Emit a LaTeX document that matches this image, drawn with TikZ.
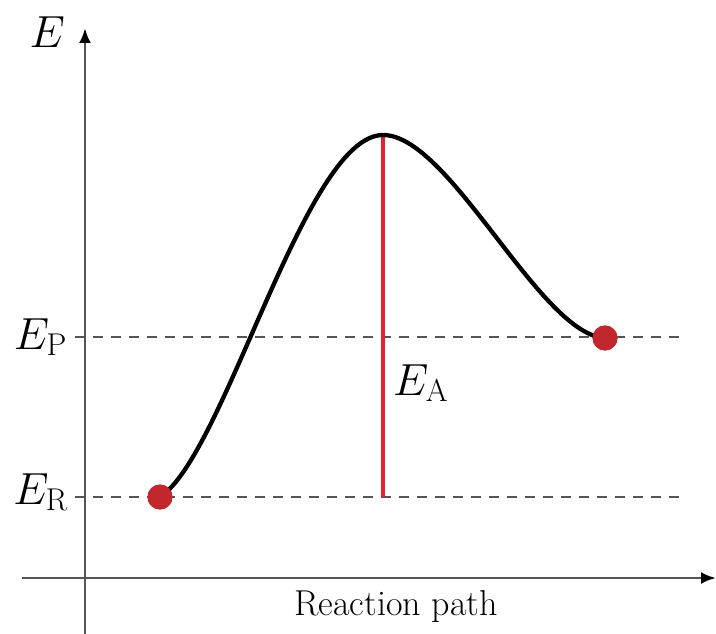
\RequirePackage{fix-cm}
\documentclass[tikz,border=0pt]{standalone}
\usepackage{fontspec}
\usetikzlibrary{arrows.meta}
\definecolor{axisgray}{HTML}{555555}
\definecolor{dotred}{HTML}{C1272D}
\definecolor{linered}{HTML}{E8202A}
\tikzset{
  axis/.style={draw=axisgray, line width=2.8pt, -{Latex[length=15pt,width=12pt,color=black]}},
  level/.style={draw=axisgray, line width=2.4pt, dash pattern=on 10pt off 8pt},
  curve/.style={draw=black, line width=4.3pt},
  ealine/.style={draw=linered, line width=3.6pt},
  dot/.style={circle, fill=dotred, inner sep=0pt, minimum size=25pt},
  biglabel/.style={inner sep=0pt, font=\fontsize{45}{50}\selectfont},
  pathlabel/.style={inner sep=0pt, font=\fontsize{36}{40}\selectfont}
}
\begin{document}
\begin{tikzpicture}[x=1pt, y=-1pt]
\useasboundingbox (0,0) rectangle (716,634);
% axes
\coordinate (yb) at (85,640);
\coordinate (yt) at (85,28);
\coordinate (xl) at (22,578);
\coordinate (xr) at (716,578);
\draw[axis] (yb) -- (yt);
\draw[axis] (xl) -- (xr);
% levels
\coordinate (pl) at (75,337);
\coordinate (pr) at (680,337);
\coordinate (rl) at (75,497);
\coordinate (rr) at (680,497);
\draw[level] (pl) -- (pr);
\draw[level] (rl) -- (rr);
% activation line
\coordinate (peak) at (383,135);
\coordinate (base) at (383,497);
\draw[ealine] (peak) -- (base);
% curve
\node[dot] (r) at (160,497) {};
\node[dot] (p) at (605,338) {};
\draw[curve, line cap=round] (r.center) .. controls (225,455) and (305,135) .. (peak)
  .. controls (450,135) and (540,335) .. (p.center);
\node[dot] at (r.center) {};
\node[dot] at (p.center) {};
% labels
\node[biglabel, anchor=base east] (el) at (65,48) {$E$};
\node[biglabel, anchor=base east] (ep) at (67,349) {$E_{\mathrm{P}}$};
\node[biglabel, anchor=base east] (er) at (68,504) {$E_{\mathrm{R}}$};
\node[biglabel, anchor=base west] (ea) at (393,395) {$E_{\mathrm{A}}$};
\node[pathlabel, anchor=base] (rp) at (396,615) {Reaction path};
\end{tikzpicture}
\end{document}
